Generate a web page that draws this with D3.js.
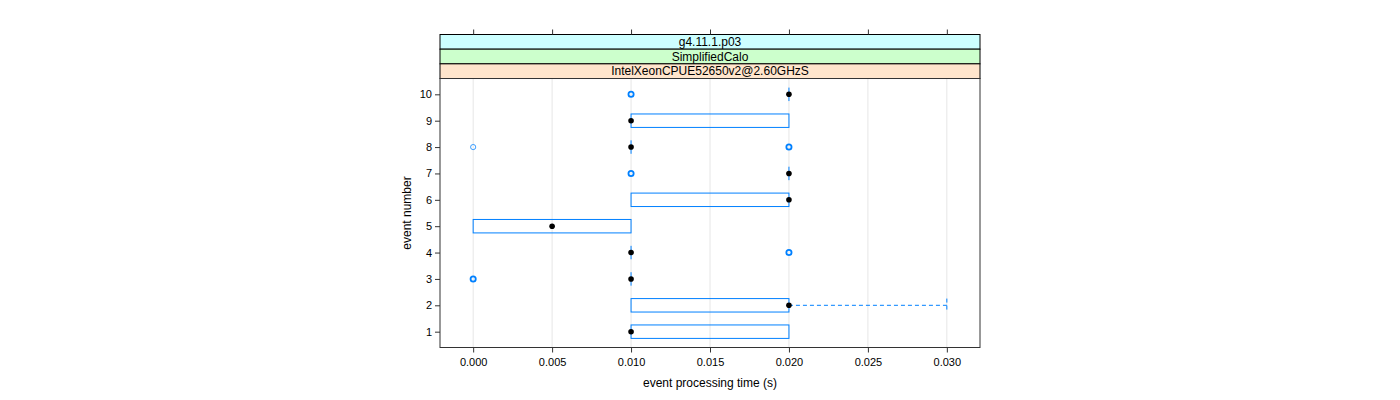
<!DOCTYPE html>
<html>
<head>
<meta charset="utf-8">
<script src="https://cdn.jsdelivr.net/npm/d3@7"></script>
<style>
  html, body { margin: 0; padding: 0; background: #fff; }
  svg { display: block; font-family: "Liberation Sans", Arial, Helvetica, sans-serif; }
</style>
</head>
<body>
<svg id="chart" width="1400" height="400"></svg>
<script>
// ---- data ----
const events    = [1, 2, 3, 4, 5, 6, 7, 8, 9, 10];
const q1        = [0.01, 0.01, 0.01, 0.01, 0.000, 0.01, 0.02, 0.01, 0.01, 0.02];
const medians   = [0.01, 0.02, 0.01, 0.01, 0.005, 0.02, 0.02, 0.01, 0.01, 0.02];
const q3        = [0.02, 0.02, 0.01, 0.01, 0.010, 0.02, 0.02, 0.01, 0.02, 0.02];
const whiskLo   = [0.01, 0.01, 0.01, 0.01, 0.000, 0.01, 0.02, 0.01, 0.01, 0.02];
const whiskHi   = [0.02, 0.03, 0.01, 0.01, 0.010, 0.02, 0.02, 0.01, 0.02, 0.02];
const outliers  = [[], [], [0, 0], [0.02, 0.02], [], [], [0.01, 0.01], [0, 0.02, 0.02], [], [0.01, 0.01]];
const xTicks    = [0.000, 0.005, 0.010, 0.015, 0.020, 0.025, 0.030];
const stripLabels = ["g4.11.1.p03", "SimplifiedCalo", "IntelXeonCPUE52650v2@2.60GHzS"];
const stripColors = ["#ccffff", "#ccffcc", "#ffe5cc"];
const xLabel = "event processing time (s)";
const yLabel = "event number";

// ---- layout ----
const svg = d3.select("#chart");
const P = { left: 440, right: 980, top: 78.5, bottom: 347.5 };
const stripTop = 34.5, stripH = 14.67;
const boxColor = "#0080ff";

const x = d3.scaleLinear().domain([-0.0021, 0.0321]).range([P.left, P.right]);
const y = d3.scaleLinear().domain([0.4, 10.6]).range([P.bottom, P.top]);

// grid lines
svg.append("g").selectAll("line").data(xTicks).join("line")
  .attr("x1", d => x(d)).attr("x2", d => x(d))
  .attr("y1", P.top).attr("y2", P.bottom)
  .attr("stroke", "#e6e6e6").attr("stroke-width", 1);

// strips
stripLabels.forEach((lab, i) => {
  const yy = stripTop + i * stripH;
  svg.append("rect").attr("x", P.left).attr("y", yy)
    .attr("width", P.right - P.left).attr("height", stripH)
    .attr("fill", stripColors[i]).attr("stroke", "#000").attr("stroke-width", 1);
  svg.append("text").attr("x", (P.left + P.right) / 2).attr("y", yy + stripH / 2)
    .attr("dy", "0.36em").attr("text-anchor", "middle")
    .attr("font-size", 12).attr("fill", "#000").text(lab);
});

// bottom axis
const axBottom = d3.axisBottom(x).tickValues(xTicks).tickFormat(d3.format(".3f")).tickSize(5).tickSizeOuter(0);
const gb = svg.append("g").attr("transform", `translate(0,${P.bottom})`).call(axBottom);
gb.select(".domain").remove();
gb.selectAll("line").attr("stroke", "#333");
gb.selectAll("text").attr("font-size", 11).attr("fill", "#000").attr("dy", "0.71em").attr("y", 11)
  .style("font-family", "Liberation Sans, Arial, sans-serif");

// top axis ticks (no labels)
const axTop = d3.axisTop(x).tickValues(xTicks).tickFormat("").tickSize(5).tickSizeOuter(0);
const gt = svg.append("g").attr("transform", `translate(0,${stripTop})`).call(axTop);
gt.select(".domain").remove();
gt.selectAll("line").attr("stroke", "#333");

// left axis
const axLeft = d3.axisLeft(y).tickValues(events).tickFormat(d3.format("d")).tickSize(5).tickSizeOuter(0);
const gl = svg.append("g").attr("transform", `translate(${P.left},0)`).call(axLeft);
gl.select(".domain").remove();
gl.selectAll("line").attr("stroke", "#333");
gl.selectAll("text").attr("font-size", 11).attr("fill", "#000").attr("x", -8)
  .style("font-family", "Liberation Sans, Arial, sans-serif");

// panel border
svg.append("rect").attr("x", P.left).attr("y", P.top)
  .attr("width", P.right - P.left).attr("height", P.bottom - P.top)
  .attr("fill", "none").attr("stroke", "#333").attr("stroke-width", 1);

// boxes
const half = 0.255;
const g = svg.append("g");
events.forEach((ev, i) => {
  const yc = y(ev), yt = y(ev + half), ybt = y(ev - half);
  // whiskers
  if (whiskHi[i] > q3[i]) {
    g.append("line").attr("x1", x(q3[i])).attr("x2", x(whiskHi[i])).attr("y1", yc).attr("y2", yc)
      .attr("stroke", boxColor).attr("stroke-dasharray", "4,3");
    g.append("line").attr("x1", x(whiskHi[i])).attr("x2", x(whiskHi[i])).attr("y1", yt).attr("y2", ybt)
      .attr("stroke", boxColor).attr("stroke-dasharray", "4,3");
  }
  if (whiskLo[i] < q1[i]) {
    g.append("line").attr("x1", x(whiskLo[i])).attr("x2", x(q1[i])).attr("y1", yc).attr("y2", yc)
      .attr("stroke", boxColor).attr("stroke-dasharray", "4,3");
    g.append("line").attr("x1", x(whiskLo[i])).attr("x2", x(whiskLo[i])).attr("y1", yt).attr("y2", ybt)
      .attr("stroke", boxColor).attr("stroke-dasharray", "4,3");
  }
  // box
  if (q3[i] > q1[i]) {
    g.append("rect").attr("x", x(q1[i])).attr("y", yt)
      .attr("width", x(q3[i]) - x(q1[i])).attr("height", ybt - yt)
      .attr("fill", "none").attr("stroke", boxColor).attr("stroke-width", 1);
  } else {
    g.append("line").attr("x1", x(q1[i])).attr("x2", x(q1[i])).attr("y1", yt).attr("y2", ybt)
      .attr("stroke", boxColor).attr("stroke-width", 1);
  }
  // outliers
  const counts = d3.rollup(outliers[i], v => v.length, d => d);
  counts.forEach((n, v) => {
    g.append("circle").attr("cx", x(v)).attr("cy", yc).attr("r", 2.6)
      .attr("fill", "none").attr("stroke", boxColor).attr("stroke-width", n > 1 ? 1.8 : 1)
      .attr("stroke-opacity", n > 1 ? 1 : 0.75);
  });
  // median dot
  g.append("circle").attr("cx", x(medians[i])).attr("cy", yc).attr("r", 2.8).attr("fill", "#000");
});

// axis labels
svg.append("text").attr("x", (P.left + P.right) / 2).attr("y", 383).attr("dy", "0.36em")
  .attr("text-anchor", "middle").attr("font-size", 12).attr("fill", "#000").text(xLabel);
svg.append("text").attr("transform", `translate(407,${(P.top + P.bottom) / 2}) rotate(-90)`)
  .attr("dy", "0.36em").attr("text-anchor", "middle").attr("font-size", 12).attr("fill", "#000").text(yLabel);
</script>
</body>
</html>
